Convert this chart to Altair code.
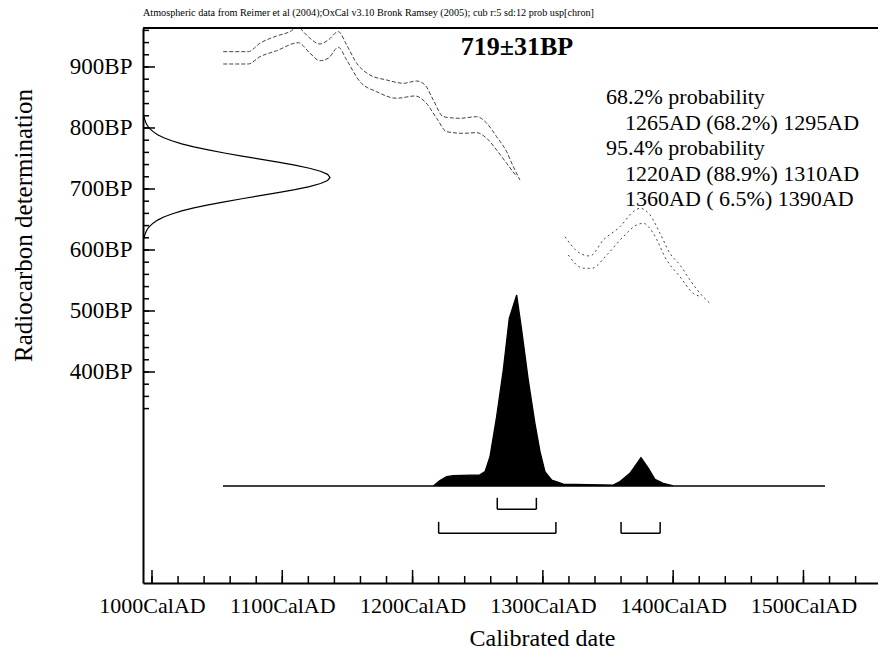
import altair as alt
import pandas as pd

FONT = "Liberation Serif"
W, H = 735, 555

# ---- scale extents (axis ranges) ----
YEAR_MIN, YEAR_MAX = 993.1, 1557.2
BP_MIN, BP_MAX = 54.1, 963.9
PROB_MIN, PROB_MAX = -0.508, 2.398
DENS_MIN, DENS_MAX = 0.0, 3.930

# ---- texts ----
note = "Atmospheric data from Reimer et al (2004);OxCal v3.10 Bronk Ramsey (2005); cub r:5 sd:12 prob usp[chron]"
headline = "719\u00b131BP"
prob_lines = ["68.2% probability", "1265AD (68.2%) 1295AD", "95.4% probability",
              "1220AD (88.9%) 1310AD", "1360AD ( 6.5%) 1390AD"]
prob_indent = [0, 1, 0, 1, 1]
x_title = "Calibrated date"
y_title = "Radiocarbon determination"

# ---- axis tick values ----
x_tick_labels = [1000, 1100, 1200, 1300, 1400, 1500]
x_minor_ticks = list(range(1000, 1541, 20))
y_tick_labels = [400, 500, 600, 700, 800, 900]
y_minor_ticks = list(range(340, 961, 20))

# ---- calibration curve (upper / lower 1-sigma envelope) ----
upper1_year = [1054.7, 1073.9, 1082.9, 1095.7, 1105.9, 1112.3, 1116.1, 1121.3, 1128.9, 1135.3, 1143.0,
               1149.4, 1157.1, 1167.3, 1180.1, 1192.9, 1203.1, 1209.5, 1215.9, 1223.6, 1236.4, 1249.2,
               1256.9, 1264.5, 1272.2, 1277.3, 1282.4]
upper1_bp = [925.1, 925.1, 938.9, 950.8, 957.9, 966.1, 957.9, 947.0, 937.7, 944.3, 957.9,
             936.1, 906.1, 886.9, 878.7, 873.3, 877.0, 870.5, 845.9, 818.5, 815.9, 818.5,
             807.7, 785.7, 761.1, 736.6, 714.8]
lower1_year = [1054.7, 1073.9, 1082.9, 1095.7, 1112.3, 1121.3, 1128.9, 1135.3, 1143.0, 1149.4, 1159.6,
               1172.4, 1187.8, 1201.8, 1209.5, 1218.5, 1226.2, 1238.9, 1249.2, 1256.9, 1264.5, 1272.2,
               1279.9]
lower1_bp = [904.9, 904.9, 916.9, 926.7, 939.8, 922.5, 910.3, 914.3, 932.3, 911.5, 875.9,
             859.5, 848.7, 852.5, 843.1, 815.9, 793.9, 791.3, 792.3, 783.1, 763.9, 742.1,
             720.2]
upper2_year = [1317.0, 1328.5, 1336.1, 1346.4, 1359.2, 1369.4, 1374.5, 1382.2, 1389.9, 1397.5, 1405.2,
               1412.9, 1420.6, 1428.2]
upper2_bp = [621.8, 594.6, 590.2, 616.4, 638.2, 662.8, 668.4, 657.4, 627.4, 594.6, 575.4,
             550.8, 529.0, 512.6]
lower2_year = [1319.5, 1331.0, 1337.5, 1349.0, 1361.7, 1372.0, 1377.1, 1384.7, 1395.0, 1405.2, 1415.4,
               1421.9]
lower2_bp = [591.8, 570.0, 570.0, 591.8, 621.8, 641.0, 643.8, 627.4, 583.6, 556.2, 529.0,
             523.4]

# ---- calibrated probability distribution (relative) ----
dist_year = [1054.5, 1215.9, 1221.0, 1226.2, 1231.2, 1251.7, 1255.6, 1259.4, 1264.5, 1269.6, 1274.2,
             1279.9, 1283.7, 1288.8, 1293.9, 1297.8, 1301.6, 1306.8, 1315.7, 1354.0, 1359.2, 1366.8,
             1375.3, 1380.9, 1386.0, 1392.4, 1400.1, 1516.5]
dist_prob = [0.0, 0.0, 0.028, 0.049, 0.054, 0.058, 0.075, 0.153, 0.363, 0.607, 0.878,
             1.0, 0.817, 0.555, 0.328, 0.18, 0.075, 0.031, 0.010, 0.005, 0.023, 0.066,
             0.148, 0.093, 0.035, 0.014, 0.0, 0.0]

# ---- ranges (brackets) ----
range_start = [1265, 1220, 1360]
range_end = [1295, 1310, 1390]
range_level = [0, 1, 1]

# ---- radiocarbon determination (relative density on BP axis) ----
gauss_bp = [619, 624, 629, 634, 639, 644, 649, 654, 659, 664, 669, 674, 679, 684, 689, 694, 699, 704,
            709, 714, 719, 724, 729, 734, 739, 744, 749, 754, 759, 764, 769, 774, 779, 784, 789, 794,
            799, 804, 809, 814, 819]
gauss_dens = [0.005, 0.009, 0.015, 0.023, 0.036, 0.054, 0.078, 0.111, 0.154, 0.207, 0.272, 0.349,
              0.435, 0.529, 0.626, 0.722, 0.812, 0.890, 0.949, 0.987, 1.0, 0.987, 0.949, 0.890,
              0.812, 0.722, 0.626, 0.529, 0.435, 0.349, 0.272, 0.207, 0.154, 0.111, 0.078, 0.054,
              0.036, 0.023, 0.015, 0.009, 0.005]

# ---------------- build ----------------
year_scale = alt.Scale(domain=[YEAR_MIN, YEAR_MAX], nice=False, zero=False)
bp_scale = alt.Scale(domain=[BP_MIN, BP_MAX], nice=False, zero=False)
prob_scale = alt.Scale(domain=[PROB_MIN, PROB_MAX], nice=False, zero=False)
dens_scale = alt.Scale(domain=[DENS_MIN, DENS_MAX], nice=False, zero=False)

x_axis = alt.Axis(values=x_tick_labels, labelExpr="datum.value + 'CalAD'", ticks=False, grid=False,
                  domainColor="black", domainWidth=2, labelFont=FONT, labelFontSize=22,
                  labelColor="black", labelPadding=12, labelFlush=False, labelOverlap=False,
                  title=x_title, titleFont=FONT, titleFontSize=24, titleFontWeight="normal",
                  titleColor="black", titleX=399, titleY=55, titleAlign="center",
                  titleBaseline="middle")
y_axis = alt.Axis(values=y_tick_labels, labelExpr="datum.value + 'BP'", ticks=False, grid=False,
                  domainColor="black", domainWidth=2, labelFont=FONT, labelFontSize=23,
                  labelColor="black", labelPadding=11, labelFlush=False, labelOverlap=False,
                  title=y_title, titleFont=FONT, titleFontSize=25, titleFontWeight="normal",
                  titleColor="black", titleX=-120, titleY=197, titleAngle=270,
                  titleAlign="center", titleBaseline="middle")

X_MAIN = alt.X("year:Q", scale=year_scale, axis=x_axis)
Y_MAIN = alt.Y("bp:Q", scale=bp_scale, axis=y_axis)

cal_rows = []
for seg, nm, ys, bs in [("a", "upper1", upper1_year, upper1_bp), ("a", "lower1", lower1_year, lower1_bp),
                        ("b", "upper2", upper2_year, upper2_bp), ("b", "lower2", lower2_year, lower2_bp)]:
    for yv, bv in zip(ys, bs):
        cal_rows.append({"year": yv, "bp": bv, "line": nm, "seg": seg})
cal_df = pd.DataFrame(cal_rows)

cal = alt.Chart(cal_df).mark_line(color="#444444", strokeWidth=1, interpolate="monotone", clip=True).encode(
    x=X_MAIN, y=Y_MAIN, detail="line:N",
    strokeDash=alt.StrokeDash("seg:N", scale=alt.Scale(domain=["a", "b"], range=[[4, 2], [2, 3]]), legend=None),
)

xt_df = pd.DataFrame({"year": x_minor_ticks})
xt_major_df = pd.DataFrame({"year": x_tick_labels})
yt_df = pd.DataFrame({"bp": y_minor_ticks})
yt_major_df = pd.DataFrame({"bp": y_tick_labels})

x_minor = alt.Chart(xt_df).mark_rule(color="black", strokeWidth=1.5).encode(
    x=X_MAIN, y=alt.value(H), y2=alt.value(H - 7))
x_major = alt.Chart(xt_major_df).mark_rule(color="black", strokeWidth=1.5).encode(
    x=X_MAIN, y=alt.value(H), y2=alt.value(H - 13))
y_minor = alt.Chart(yt_df).mark_rule(color="black", strokeWidth=1.5).encode(
    y=Y_MAIN, x=alt.value(0), x2=alt.value(6))
y_major = alt.Chart(yt_major_df).mark_rule(color="black", strokeWidth=1.5).encode(
    y=Y_MAIN, x=alt.value(0), x2=alt.value(12))

top_border = alt.Chart(pd.DataFrame({"k": [0]})).mark_rule(color="black", strokeWidth=2).encode(
    x=alt.value(0), x2=alt.value(W), y=alt.value(0))

def text_layer(s, x, y, size, weight="normal", align="left"):
    return alt.Chart(pd.DataFrame({"t": [s]})).mark_text(
        font=FONT, fontSize=size, fontWeight=weight, align=align, baseline="middle", color="black"
    ).encode(text="t:N", x=alt.value(x), y=alt.value(y))

texts = [text_layer(note, 0, -15, 10.2), text_layer(headline, 374, 19, 26, "bold", "center")]
line_y = [69, 94.5, 120, 145.5, 171]
for s, ind, yy in zip(prob_lines, prob_indent, line_y):
    texts.append(text_layer(s, 463 + 19 * ind, yy, 22))

group_main = alt.layer(cal, x_minor, x_major, y_minor, y_major, top_border, *texts)

# distribution group
X_YEAR_NA = alt.X("year:Q", scale=year_scale, axis=None)
dist_df = pd.DataFrame({"year": dist_year, "prob": dist_prob})
dist = alt.Chart(dist_df).mark_area(color="black", stroke="black", strokeWidth=1.3, interpolate="linear").encode(
    x=X_YEAR_NA, y=alt.Y("prob:Q", scale=prob_scale, axis=None), y2=alt.datum(0))

rng_df = pd.DataFrame({"start": range_start, "end": range_end, "level": range_level})
rng_base = alt.Chart(rng_df).transform_calculate(
    bot="-0.122 - 0.126 * datum.level", top="-0.122 - 0.126 * datum.level + 0.06")
Y_BOT = alt.Y("bot:Q", scale=prob_scale, axis=None)
r_h = rng_base.mark_rule(color="black", strokeWidth=1.5).encode(
    x=alt.X("start:Q", scale=year_scale, axis=None), x2="end:Q", y=Y_BOT)
r_l = rng_base.mark_rule(color="black", strokeWidth=1.5).encode(
    x=alt.X("start:Q", scale=year_scale, axis=None), y=Y_BOT, y2="top:Q")
r_r = rng_base.mark_rule(color="black", strokeWidth=1.5).encode(
    x=alt.X("end:Q", scale=year_scale, axis=None), y=Y_BOT, y2="top:Q")
group_dist = alt.layer(dist, r_h, r_l, r_r)

# radiocarbon determination group
g_df = pd.DataFrame({"bp": gauss_bp, "dens": gauss_dens})
gauss = alt.Chart(g_df).mark_line(color="black", strokeWidth=1.2, interpolate="linear").encode(
    x=alt.X("dens:Q", scale=dens_scale, axis=None),
    y=alt.Y("bp:Q", scale=bp_scale, axis=None),
    order="bp:Q")

chart = alt.layer(group_main, group_dist, gauss).resolve_scale(
    x="independent", y="independent"
).properties(
    width=W, height=H, autosize=alt.AutoSizeParams(type="none"),
    padding={"left": 135, "top": 20, "right": 0, "bottom": 68},
    background="white"
).configure_view(stroke=None)

chart.save("out.html", embed_options={"renderer": "svg", "actions": False})
